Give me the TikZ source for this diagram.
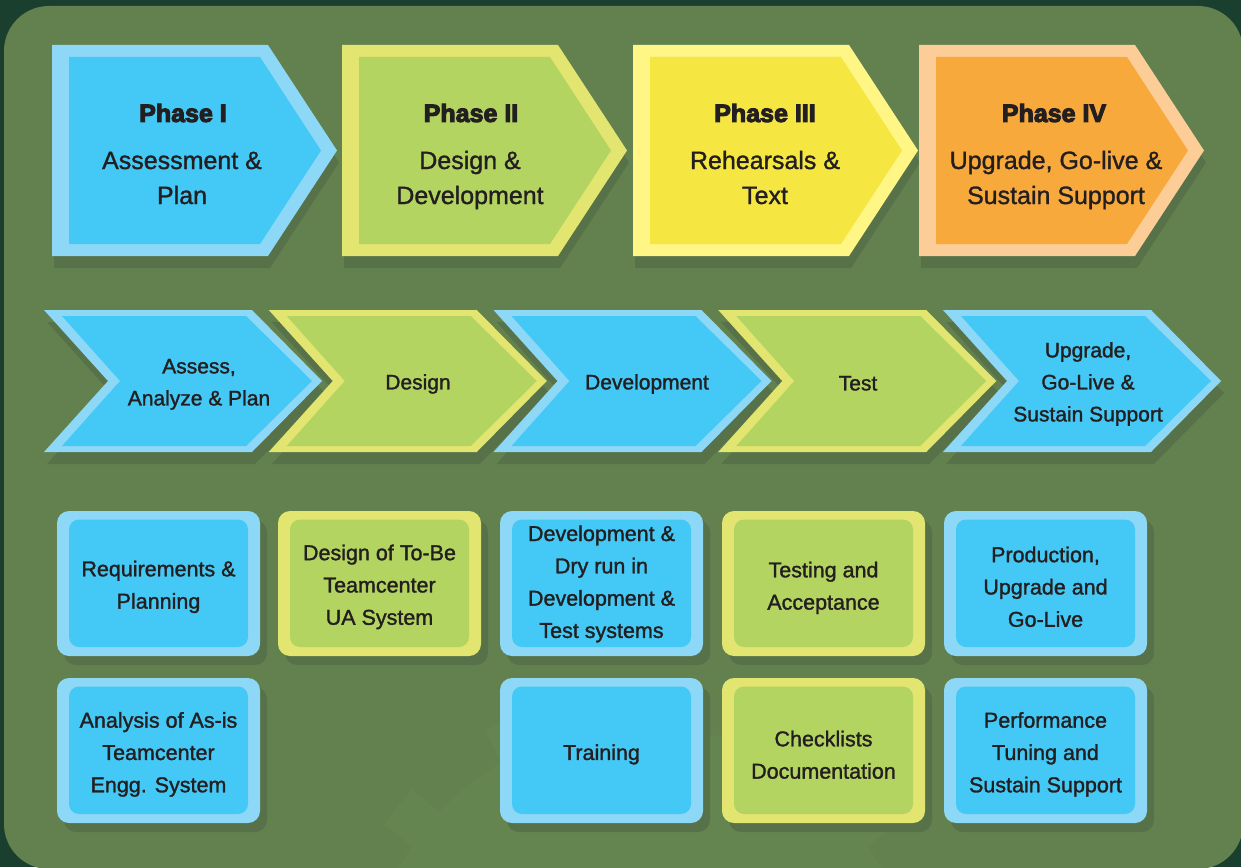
\documentclass[tikz,border=0pt]{standalone}
\usepackage{fontspec}
\setmainfont{Liberation Sans}
\newfontfamily\heavyfont{Liberation Sans Bold}
\newcommand\heavytext[1]{\special{pdf:literal direct 2 Tr 1.0 w}#1\special{pdf:literal direct 0 Tr}}
\newcommand\medtext[1]{\special{pdf:literal direct 2 Tr 0.3 w}#1\special{pdf:literal direct 0 Tr}}
\definecolor{darkbg}{HTML}{1B3F2F}
\definecolor{panel}{HTML}{62814F}
\definecolor{shadowc}{HTML}{577249}
\definecolor{gearc}{HTML}{658550}
\definecolor{txt}{HTML}{231F20}
\definecolor{blueI}{HTML}{44C8F5}
\definecolor{blueO}{HTML}{8ED8F7}
\definecolor{greenI}{HTML}{B3D461}
\definecolor{greenO}{HTML}{E2E56F}
\definecolor{yellowI}{HTML}{F5E642}
\definecolor{yellowO}{HTML}{FFF685}
\definecolor{orangeI}{HTML}{F7A93C}
\definecolor{orangeO}{HTML}{FDCD97}

% phase arrow: x0, outer colour, inner colour
\newcommand\phasearrow[3]{%
  \fill[shadowc,shift={(2,12)}] (#1,45) -- ++(216,0) -- ++(69,105.5) -- ++(-69,105.5) -- ++(-216,0) -- cycle;
  \fill[#2] (#1,45) -- ++(216,0) -- ++(69,105.5) -- ++(-69,105.5) -- ++(-216,0) -- cycle;
  \fill[#3] ({#1+17},57) -- ({#1+208},57) -- ({#1+269},150.5) -- ({#1+208},244) -- ({#1+17},244) -- cycle;
}
% chevron shadow and body: x0, outer, inner
\newcommand\chevshadow[1]{%
  \fill[shadowc,shift={(3,12)}] (#1,310) -- ({#1+208},310) -- ({#1+278},381) -- ({#1+208},452) -- (#1,452) -- ({#1+64},381) -- cycle;
}
\newcommand\chevbody[3]{%
  \fill[#2] (#1,310) -- ({#1+208},310) -- ({#1+278},381) -- ({#1+208},452) -- (#1,452) -- ({#1+64},381) -- cycle;
  \fill[#3] ({#1+18},316) -- ({#1+202},316) -- ({#1+268},381) -- ({#1+202},446) -- ({#1+18},446) -- ({#1+76},381) -- cycle;
}
% tile: x0, y0, outer, inner
\newcommand\tile[4]{%
  \fill[shadowc,rounded corners=12] ({#1+7},{#2+9}) rectangle ++(203,145);
  \fill[#3,rounded corners=12] (#1,#2) rectangle ++(203,145);
  \fill[#4,rounded corners=10] ({#1+12},{#2+8.5}) rectangle ({#1+191},{#2+136});
}

\begin{document}
\begin{tikzpicture}[x=1pt,y=-1pt,
  titletext/.style={text=txt,font=\heavyfont\fontsize{25}{30}\selectfont,inner sep=0pt},
  phasetext/.style={text=txt,align=center,font=\fontsize{25}{35}\selectfont,inner sep=0pt},
  chevtext/.style={text=txt,align=center,font=\fontsize{21}{32}\selectfont,inner sep=0pt},
  boxtext/.style={text=txt,align=center,font=\fontsize{21.5}{32.3}\selectfont,inner sep=0pt}]
\useasboundingbox (0,0) rectangle (1241,867);
\fill[darkbg] (0,0) rectangle (1241,867);
\fill[panel,rounded corners=45] (4,6) rectangle (1243,869);

% faint gear watermark
\begin{scope}
  \clip[rounded corners=45] (4,6) rectangle (1243,869);
  \fill[gearc] (640,1000) circle (275);
  \foreach \i in {0,...,13}
    \fill[gearc,rotate around={\i*360/14:(640,1000)}] (618,690) rectangle (662,740);
  \fill[panel] (640,1000) circle (120);
\end{scope}

% top phase arrows
\phasearrow{52}{blueO}{blueI}
\phasearrow{342}{greenO}{greenI}
\phasearrow{633}{yellowO}{yellowI}
\phasearrow{919}{orangeO}{orangeI}

\node[titletext] (ph1) at (183,113) {\heavytext{Phase I}};
\node[phasetext] (ph1b) at (182,179.5) {\strut\medtext{Assessment \&}\\\medtext{Plan}\strut};
\node[titletext] (ph2) at (471,113) {\heavytext{Phase II}};
\node[phasetext] (ph2b) at (470,179.5) {\strut\medtext{Design \&}\\\medtext{Development}\strut};
\node[titletext] (ph3) at (765,113) {\heavytext{Phase III}};
\node[phasetext] (ph3b) at (765,179.5) {\strut\medtext{Rehearsals \&}\\\medtext{Text}\strut};
\node[titletext] (ph4) at (1054,113) {\heavytext{Phase IV}};
\node[phasetext] (ph4b) at (1056,179.5) {\strut\medtext{Upgrade, Go-live \&}\\\medtext{Sustain Support}\strut};

% chevrons
\chevshadow{44}
\chevshadow{268.75}
\chevshadow{493.5}
\chevshadow{718.25}
\chevshadow{943}
\chevbody{44}{blueO}{blueI}
\chevbody{268.75}{greenO}{greenI}
\chevbody{493.5}{blueO}{blueI}
\chevbody{718.25}{greenO}{greenI}
\chevbody{943}{blueO}{blueI}

\node[chevtext] (c1) at (199,383) {\strut\medtext{Assess,}\\\medtext{Analyze \& Plan}\strut};
\node[chevtext] (c2) at (418,383) {\strut\medtext{Design}\strut};
\node[chevtext] (c3) at (647,383) {\strut\medtext{Development}\strut};
\node[chevtext] (c4) at (858,384) {\strut\medtext{Test}\strut};
\node[chevtext] (c5) at (1088,383) {\strut\medtext{Upgrade,}\\\medtext{Go-Live \&}\\\medtext{Sustain Support}\strut};

% tiles
\tile{57}{511}{blueO}{blueI}
\tile{278}{511}{greenO}{greenI}
\tile{500}{511}{blueO}{blueI}
\tile{722}{511}{greenO}{greenI}
\tile{944}{511}{blueO}{blueI}
\tile{57}{678}{blueO}{blueI}
\tile{500}{678}{blueO}{blueI}
\tile{722}{678}{greenO}{greenI}
\tile{944}{678}{blueO}{blueI}

\node[boxtext] (b11) at (158.5,586) {\strut\medtext{Requirements \&}\\\medtext{Planning}\strut};
\node[boxtext] (b12) at (379.5,586) {\strut\medtext{Design of To-Be}\\\medtext{Teamcenter}\\\medtext{UA System}\strut};
\node[boxtext] (b13) at (601.5,583) {\strut\medtext{Development \&}\\\medtext{Dry run in}\\\medtext{Development \&}\\\medtext{Test systems}\strut};
\node[boxtext] (b14) at (823.5,587) {\strut\medtext{Testing and}\\\medtext{Acceptance}\strut};
\node[boxtext] (b15) at (1045.5,588) {\strut\medtext{Production,}\\\medtext{Upgrade and}\\\medtext{Go-Live}\strut};
\node[boxtext] (b21) at (158.5,753.5) {\strut\medtext{Analysis of As-is}\\\medtext{Teamcenter}\\\medtext{Engg. System}\strut};
\node[boxtext] (b23) at (601.5,753.5) {\strut\medtext{Training}\strut};
\node[boxtext] (b24) at (823.5,756) {\strut\medtext{Checklists}\\\medtext{Documentation}\strut};
\node[boxtext] (b25) at (1045.5,753.5) {\strut\medtext{Performance}\\\medtext{Tuning and}\\\medtext{Sustain Support}\strut};
\end{tikzpicture}
\end{document}
